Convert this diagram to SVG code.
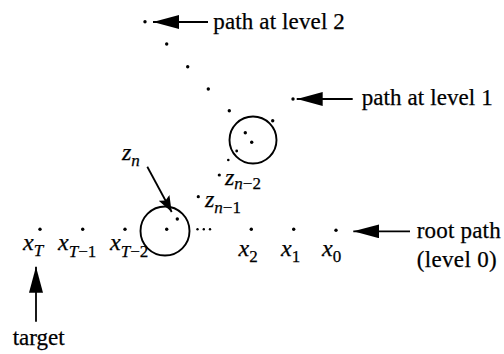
<svg xmlns="http://www.w3.org/2000/svg" width="504" height="354" viewBox="0 0 504 354">
<defs>
<style>
.t{font-family:"Liberation Serif","Times New Roman",serif;font-size:23px;fill:#000;stroke:#000;stroke-width:0.25}
.m{font-family:"Liberation Serif","Times New Roman",serif;font-style:italic;font-size:24px;fill:#000;stroke:#000;stroke-width:0.25}
.s{font-size:17px}
.d{fill:#000}
.ln{stroke:#000;stroke-width:1.8;fill:none}
.c{stroke:#000;stroke-width:1.9;fill:none}
</style>
<marker id="ah" markerWidth="16" markerHeight="12" viewBox="0 0 16 12" refX="16" refY="6" orient="auto" markerUnits="userSpaceOnUse">
<path d="M0,0 L16,6 L0,12 L3,6 Z" fill="#000"/>
</marker>
<marker id="ahb" markerWidth="26" markerHeight="14" viewBox="0 0 26 14" refX="26" refY="7" orient="auto" markerUnits="userSpaceOnUse">
<path d="M0,0 L26,7 L0,14 Z" fill="#000"/>
</marker>
</defs>
<rect width="504" height="354" fill="#fff"/>

<g id="level2-path">
<circle class="d" cx="145" cy="21.7" r="1.7"/>
<circle class="d" cx="166.7" cy="44" r="1.7"/>
<circle class="d" cx="187.7" cy="66.7" r="1.7"/>
<circle class="d" cx="208.3" cy="89" r="1.7"/>
<circle class="d" cx="229.3" cy="110.7" r="1.7"/>
</g>

<g id="level1-path">
<circle class="d" cx="293" cy="99" r="1.7"/>
<circle class="d" cx="272.7" cy="120.7" r="1.7"/>
<circle class="d" cx="228.3" cy="160" r="1.3"/>
</g>

<g id="upper-circle">
<circle class="c" cx="253" cy="140" r="23.5"/>
<circle class="d" cx="245.3" cy="132.7" r="1.7"/>
<circle class="d" cx="251.7" cy="142.3" r="1.7"/>
<circle class="d" cx="236.7" cy="151" r="1.4"/>
</g>

<g id="z-n-2">
<circle class="d" cx="219.3" cy="175" r="1.6"/>
<text class="m" x="225" y="185">z<tspan class="s" dy="4">n</tspan><tspan class="s" font-style="normal">−2</tspan></text>
</g>

<g id="z-n-1">
<circle class="d" cx="198.3" cy="196.7" r="1.6"/>
<text class="m" x="205" y="207">z<tspan class="s" dy="6">n</tspan><tspan class="s" font-style="normal">−1</tspan></text>
</g>

<g id="lower-circle">
<circle class="c" cx="165" cy="231" r="24.5"/>
<circle class="d" cx="166.7" cy="229.3" r="1.7"/>
<circle class="d" cx="177.3" cy="219" r="1.7"/>
</g>

<g id="z-n">
<text class="m" x="122" y="160">z<tspan class="s" dy="6">n</tspan></text>
</g>

<g id="root-path">
<circle class="d" cx="40" cy="229.3" r="1.7"/>
<circle class="d" cx="82.7" cy="229.3" r="1.7"/>
<circle class="d" cx="125" cy="229.3" r="1.7"/>
<circle class="d" cx="197.5" cy="229.3" r="1.2"/>
<circle class="d" cx="203.8" cy="229.3" r="1.2"/>
<circle class="d" cx="210" cy="229.3" r="1.2"/>
<circle class="d" cx="251.3" cy="229.3" r="1.7"/>
<circle class="d" cx="293.7" cy="229.3" r="1.7"/>
<circle class="d" cx="336" cy="230.3" r="1.7"/>
</g>

<g id="labels">
<text class="m" x="23" y="250">x<tspan class="s" dy="6">T</tspan></text>
<text class="m" x="58" y="250">x<tspan class="s" dy="7">T</tspan><tspan class="s" font-style="normal">−1</tspan></text>
<text class="m" x="110" y="250">x<tspan class="s" dy="7">T</tspan><tspan class="s" font-style="normal">−2</tspan></text>
<text class="m" x="238.5" y="256">x<tspan class="s" font-style="normal" dy="6">2</tspan></text>
<text class="m" x="281" y="256">x<tspan class="s" font-style="normal" dy="6">1</tspan></text>
<text class="m" x="322" y="256">x<tspan class="s" font-style="normal" dy="6">0</tspan></text>
<text class="t" x="213.3" y="29" textLength="131.5">path at level 2</text>
<text class="t" x="361.7" y="105" textLength="131">path at level 1</text>
<text class="t" x="416.7" y="238" textLength="84">root path</text>
<text class="t" x="416.7" y="267" textLength="80">(level 0)</text>
<text class="t" x="12.7" y="344.5" textLength="52">target</text>
</g>

<g id="connectors">
<line class="ln" x1="208" y1="22" x2="153" y2="22" marker-end="url(#ahb)"/>
<line class="ln" x1="352.7" y1="99" x2="296.7" y2="99" marker-end="url(#ahb)"/>
<line class="ln" x1="410" y1="231.3" x2="353.3" y2="231.3" marker-end="url(#ahb)"/>
<line class="ln" x1="36" y1="321.7" x2="36" y2="266.7" marker-end="url(#ahb)"/>
<line class="ln" x1="147.3" y1="166.7" x2="171.7" y2="212" marker-end="url(#ah)"/>
</g>
</svg>
